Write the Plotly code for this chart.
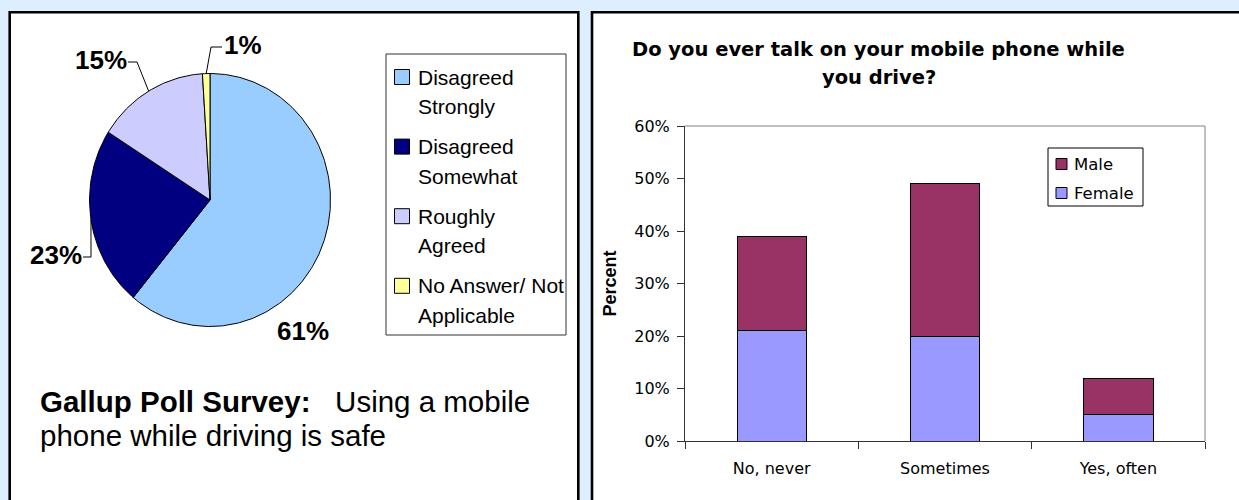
import math
import plotly.graph_objects as go

W, H = 1239, 500

# ---- Gallup poll: "Using a mobile phone while driving is safe" ----
pie_labels = ["Disagreed<br>Strongly", "Disagreed<br>Somewhat",
              "Roughly<br>Agreed", "No Answer/ Not<br>Applicable"]
pie_values = [61, 23, 15, 1]
pie_colors = ["#99ccff", "#000080", "#ccccff", "#ffff99"]

# ---- "Do you ever talk on your mobile phone while you drive?" ----
bar_categories = ["No, never", "Sometimes", "Yes, often"]
female_values = [0.21, 0.20, 0.05]
male_values = [0.18, 0.29, 0.07]
y_tick_values = [0.0, 0.1, 0.2, 0.3, 0.4, 0.5, 0.6]
bar_series = ["Male", "Female"]
female_color = "#9999ff"
male_color = "#993366"

BG = "#ddeeff"
ARIAL = "Liberation Sans, Arial, sans-serif"
WIDE = "DejaVu Sans, Verdana, sans-serif"


def fx(px):
    return px / W


def fy(py):
    return 1 - py / H


fig = go.Figure()
shapes = []
annotations = []

# ---------------- pie (drawn on its own pixel-scaled axes) ----------------
PCX, PCY = 210, 200          # pie centre in page pixels
RX, RY = 120.5, 126.5        # slightly taller than wide
HALF = 190


def ellipse_point(deg):
    a = math.radians(deg)
    return RX * math.sin(a), RY * math.cos(a)


total = sum(pie_values)
start = 0.0
mid_angles = []
for label, val, col in zip(pie_labels, pie_values, pie_colors):
    span = 360.0 * val / total
    n = max(3, int(span) + 2)
    xs, ys = [0.0], [0.0]
    for k in range(n):
        px_, py_ = ellipse_point(start + span * k / (n - 1))
        xs.append(px_)
        ys.append(py_)
    xs.append(0.0)
    ys.append(0.0)
    fig.add_trace(go.Scatter(
        x=xs, y=ys, mode="lines", fill="toself", fillcolor=col,
        line=dict(color="#000000", width=1), name=label.replace("<br>", " "),
        showlegend=False, hoverinfo="name", xaxis="x2", yaxis="y2"))
    mid_angles.append(start + span / 2)
    start += span

# percentage labels (page pixel centres) and leader-line elbows
pie_label_pos = [(303, 330.5), (55.5, 255.3), (100.5, 59.7), (242.8, 45.0)]
leader_paths = [None, [(83, 257), (91, 257)], [(128, 62), (137, 62)],
                [(222, 47), (211, 47)]]

for val, (lx, ly), path, ang in zip(pie_values, pie_label_pos, leader_paths, mid_angles):
    annotations.append(dict(
        x=fx(lx), y=fy(ly), xref="paper", yref="paper", text=f"<b>{val}%</b>",
        showarrow=False, xanchor="center", yanchor="middle",
        font=dict(family=ARIAL, size=26, color="#000000")))
    if path:
        ex, ey = ellipse_point(ang)
        fig.add_trace(go.Scatter(
            x=[p[0] - PCX for p in path] + [ex],
            y=[PCY - p[1] for p in path] + [ey],
            mode="lines", line=dict(color="#000000", width=1),
            showlegend=False, hoverinfo="skip", xaxis="x2", yaxis="y2"))

# ---------------- stacked bars ----------------
fig.add_trace(go.Bar(
    x=bar_categories, y=female_values, name="Female", showlegend=False,
    marker=dict(color=female_color, line=dict(color="#000000", width=1)),
    xaxis="x", yaxis="y"))
fig.add_trace(go.Bar(
    x=bar_categories, y=male_values, name="Male", showlegend=False,
    marker=dict(color=male_color, line=dict(color="#000000", width=1)),
    xaxis="x", yaxis="y"))

shapes += [
    # white panels with black frames
    dict(type="rect", xref="paper", yref="paper", x0=fx(9.7), x1=fx(578.3),
         y0=fy(530), y1=fy(12.3), line=dict(color="#000000", width=2.6),
         fillcolor="#ffffff", layer="below"),
    dict(type="rect", xref="paper", yref="paper", x0=fx(592), x1=fx(1260),
         y0=fy(530), y1=fy(12.3), line=dict(color="#000000", width=2.6),
         fillcolor="#ffffff", layer="below"),
    # pie legend frame
    dict(type="rect", xref="paper", yref="paper", x0=fx(386), x1=fx(566),
         y0=fy(335), y1=fy(54), line=dict(color="#333333", width=1),
         fillcolor="#ffffff", layer="below"),
    # grey top/right border of the bar plot area
    dict(type="line", xref="x domain", yref="y domain", x0=0, x1=1, y0=1, y1=1,
         line=dict(color="#808080", width=1)),
    dict(type="line", xref="x domain", yref="y domain", x0=1, x1=1, y0=0, y1=1,
         line=dict(color="#808080", width=1)),
    # bar legend frame
    dict(type="rect", xref="paper", yref="paper", x0=fx(1048), x1=fx(1143),
         y0=fy(206), y1=fy(148), line=dict(color="#000000", width=1),
         fillcolor="#ffffff"),
]

# pie legend entries
ITEM0, ITEM_STEP, LINE_STEP = 77.0, 69.6, 29.7
for i, (label, col) in enumerate(zip(pie_labels, pie_colors)):
    cy = ITEM0 + ITEM_STEP * i
    shapes.append(dict(type="rect", xref="paper", yref="paper",
                       x0=fx(394.5), x1=fx(409.5), y0=fy(cy + 7.5), y1=fy(cy - 7.5),
                       line=dict(color="#000000", width=1), fillcolor=col))
    for j, part in enumerate(label.split("<br>")):
        annotations.append(dict(
            x=fx(415.5), y=fy(cy + LINE_STEP * j), xref="paper", yref="paper",
            text=part, showarrow=False, xanchor="left", yanchor="middle",
            font=dict(family=ARIAL, size=21, color="#000000")))

# bar legend entries (Male above Female)
bar_colors = {"Male": male_color, "Female": female_color}
for i, name in enumerate(bar_series):
    cy = 164 + 29 * i
    shapes.append(dict(type="rect", xref="paper", yref="paper",
                       x0=fx(1056), x1=fx(1067), y0=fy(cy + 5.5), y1=fy(cy - 5.5),
                       line=dict(color="#000000", width=1), fillcolor=bar_colors[name]))
    annotations.append(dict(
        x=fx(1072), y=fy(cy), xref="paper", yref="paper", text=name,
        showarrow=False, xanchor="left", yanchor="middle",
        font=dict(family=WIDE, size=16.5, color="#000000")))

# caption under the pie
annotations.append(dict(
    x=fx(37.5), y=fy(401.3), xref="paper", yref="paper",
    text="<b>Gallup Poll Survey:</b>\u00a0\u00a0 Using a mobile", showarrow=False,
    xanchor="left", yanchor="middle", font=dict(family=ARIAL, size=29.5, color="#000000")))
annotations.append(dict(
    x=fx(37.5), y=fy(435.6), xref="paper", yref="paper",
    text="phone while driving is safe", showarrow=False,
    xanchor="left", yanchor="middle", font=dict(family=ARIAL, size=29.5, color="#000000")))

# bar chart title and axis title
annotations.append(dict(
    x=fx(878.5), y=fy(49.2), xref="paper", yref="paper",
    text="<b>Do you ever talk on your mobile phone while</b>", showarrow=False,
    xanchor="center", yanchor="middle", font=dict(family=WIDE, size=19.5, color="#000000")))
annotations.append(dict(
    x=fx(878.5), y=fy(77.8), xref="paper", yref="paper",
    text="<b>you drive?</b>", showarrow=False,
    xanchor="center", yanchor="middle", font=dict(family=WIDE, size=19.5, color="#000000")))
annotations.append(dict(
    x=fx(609), y=fy(283.5), xref="paper", yref="paper",
    text="<b>Percent</b>", showarrow=False, textangle=-90,
    xanchor="center", yanchor="middle", font=dict(family=ARIAL, size=18, color="#000000")))

fig.update_layout(
    width=W, height=H,
    margin=dict(l=0, r=0, t=0, b=0),
    paper_bgcolor=BG,
    plot_bgcolor="rgba(0,0,0,0)",
    barmode="stack",
    bargap=0.6,
    showlegend=False,
    xaxis=dict(
        domain=[fx(685), fx(1205)], anchor="y", type="category",
        range=[-0.5, 2.5], tickson="boundaries", ticks="outside", ticklen=7,
        tickcolor="#333333", showline=True, linecolor="#333333", linewidth=1,
        showgrid=False, zeroline=False, automargin=False, fixedrange=True,
        ticklabelstandoff=13,
        tickfont=dict(family=WIDE, size=16, color="#000000")),
    yaxis=dict(
        domain=[fy(441), fy(126)], anchor="x", range=[0, 0.6],
        tickvals=y_tick_values, tickformat=".0%", ticks="outside", ticklen=7,
        tickcolor="#333333", showline=True, linecolor="#333333", linewidth=1,
        showgrid=False, zeroline=False, automargin=False, fixedrange=True,
        ticklabelstandoff=4,
        tickfont=dict(family=WIDE, size=16, color="#000000")),
    xaxis2=dict(
        domain=[fx(PCX - HALF), fx(PCX + HALF)], anchor="y2",
        range=[-HALF, HALF], visible=False, fixedrange=True),
    yaxis2=dict(
        domain=[fy(PCY + HALF), fy(PCY - HALF)], anchor="x2",
        range=[-HALF, HALF], visible=False, fixedrange=True),
    shapes=shapes,
    annotations=annotations,
)

fig.write_html("out.html")
